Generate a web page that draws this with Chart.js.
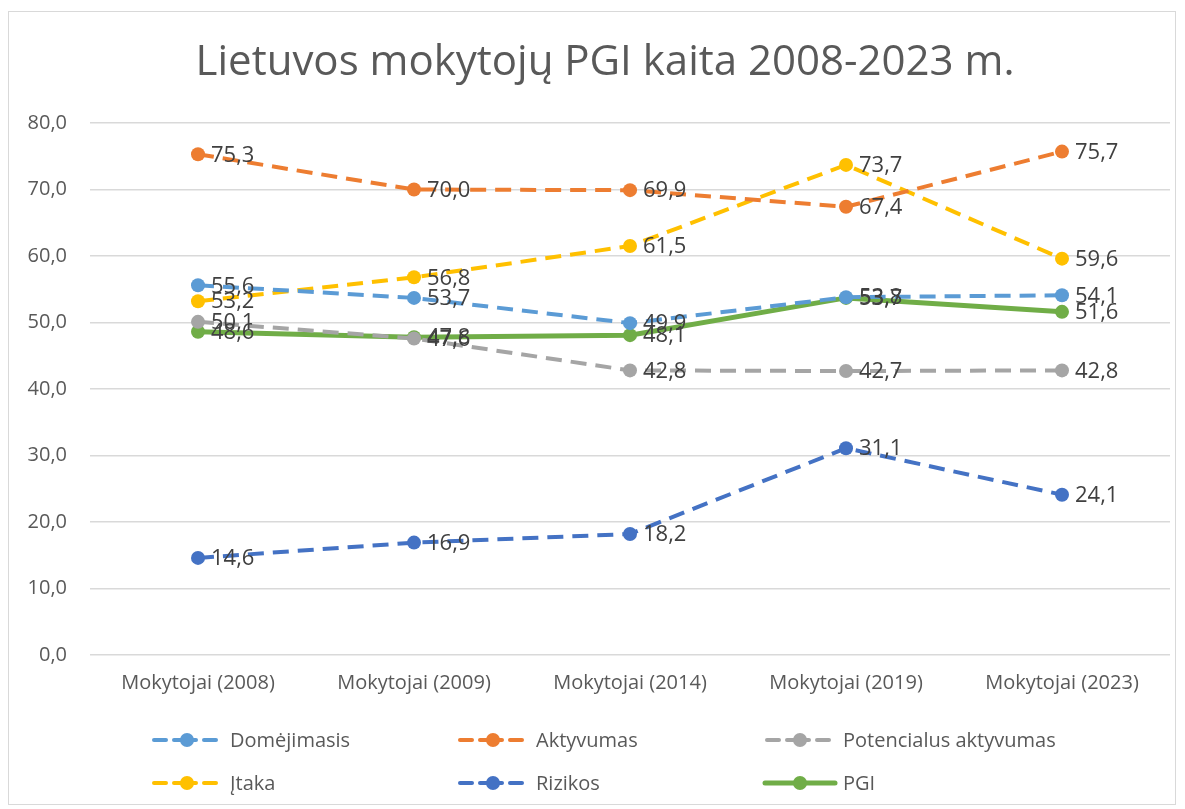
<!DOCTYPE html>
<html>
<head>
<meta charset="utf-8">
<script src="https://cdn.jsdelivr.net/npm/chart.js@4.4.0/dist/chart.umd.min.js"></script>
<style>
  html, body { margin: 0; padding: 0; background: #fff; }
  #wrap { position: relative; width: 1185px; height: 809px; }
  #frame { position: absolute; left: 8px; top: 11px; width: 1168px; height: 794px; border: 1px solid #d9d9d9; box-sizing: border-box; }
</style>
</head>
<body>
<div id="wrap">
  <div id="frame"></div>
  <canvas id="chart" width="1185" height="809"></canvas>
</div>
<script>
// Chart data
const chartTitle = 'Lietuvos mokytojų PGI kaita 2008-2023 m.';
const categories = ['Mokytojai (2008)', 'Mokytojai (2009)', 'Mokytojai (2014)', 'Mokytojai (2019)', 'Mokytojai (2023)'];
const domejimasis = [55.6, 53.7, 49.9, 53.8, 54.1];
const aktyvumas = [75.3, 70.0, 69.9, 67.4, 75.7];
const potencialus = [50.1, 47.6, 42.8, 42.7, 42.8];
const itaka = [53.2, 56.8, 61.5, 73.7, 59.6];
const rizikos = [14.6, 16.9, 18.2, 31.1, 24.1];
const pgi = [48.6, 47.8, 48.1, 53.7, 51.6];

const FONT = '"Open Sans", "Noto Sans", sans-serif';

// Format number with comma decimal
function fmt(v) {
    return v.toFixed(1).replace('.', ',');
}

function makeSet(label, data, color, dashed) {
    return {
        label: label,
        data: data,
        borderColor: color,
        backgroundColor: color,
        borderWidth: dashed ? 4 : 5,
        borderDash: dashed ? [16, 9] : [],
        pointRadius: 7,
        pointHoverRadius: 7,
        pointBorderWidth: 0,
        pointBackgroundColor: color,
        tension: 0,
        fill: false,
        dashed: dashed
    };
}

const datasets = [
    makeSet('Domėjimasis', domejimasis, '#5B9BD5', true),
    makeSet('Aktyvumas', aktyvumas, '#ED7D31', true),
    makeSet('Potencialus aktyvumas', potencialus, '#A5A5A5', true),
    makeSet('Įtaka', itaka, '#FFC000', true),
    makeSet('Rizikos', rizikos, '#4472C4', true),
    makeSet('PGI', pgi, '#70AD47', false)
];

// Title, data labels and legend drawn by a small plugin
const extras = {
    id: 'extras',
    afterDraw(chart) {
        const ctx = chart.ctx;
        ctx.save();

        // title
        ctx.fillStyle = '#595959';
        ctx.font = '42px ' + FONT;
        ctx.textAlign = 'center';
        ctx.textBaseline = 'middle';
        ctx.fillText(chartTitle, 605, 63);

        // data labels
        ctx.font = '22px ' + FONT;
        ctx.fillStyle = '#404040';
        ctx.textAlign = 'left';
        chart.data.datasets.forEach((ds, i) => {
            const meta = chart.getDatasetMeta(i);
            meta.data.forEach((pt, j) => {
                ctx.fillText(fmt(ds.data[j]), pt.x + 13, pt.y + 1);
            });
        });

        // legend
        const cols = [152, 458, 765];
        const rows = [740, 783];
        ctx.font = '20px ' + FONT;
        chart.data.datasets.forEach((ds, i) => {
            const x = cols[i % 3];
            const y = rows[Math.floor(i / 3)];
            ctx.strokeStyle = ds.borderColor;
            ctx.lineCap = 'round';
            if (ds.dashed) {
                ctx.lineWidth = 4;
                ctx.beginPath(); ctx.moveTo(x + 2, y); ctx.lineTo(x + 14, y); ctx.stroke();
                ctx.beginPath(); ctx.moveTo(x + 22, y); ctx.lineTo(x + 44, y); ctx.stroke();
                ctx.beginPath(); ctx.moveTo(x + 52, y); ctx.lineTo(x + 64, y); ctx.stroke();
            } else {
                ctx.lineWidth = 5;
                ctx.beginPath(); ctx.moveTo(x, y); ctx.lineTo(x + 70, y); ctx.stroke();
            }
            ctx.fillStyle = ds.borderColor;
            ctx.beginPath(); ctx.arc(x + 35, y, 7, 0, Math.PI * 2); ctx.fill();
            ctx.fillStyle = '#595959';
            ctx.fillText(ds.label, x + 78, y + 1);
        });
        ctx.restore();
    }
};

new Chart(document.getElementById('chart'), {
    type: 'line',
    data: { labels: categories, datasets: datasets },
    options: {
        responsive: false,
        animation: false,
        layout: { padding: { left: 0, top: 123, right: 15, bottom: 104 } },
        plugins: {
            legend: { display: false },
            title: { display: false },
            tooltip: { enabled: false }
        },
        scales: {
            x: {
                offset: true,
                grid: { display: false, drawTicks: false },
                border: { display: false },
                ticks: { color: '#595959', font: { family: FONT, size: 20 }, padding: 16, maxRotation: 0 },
                afterFit(scale) { scale.height = 50; }
            },
            y: {
                min: 0,
                max: 80,
                grid: { color: '#d9d9d9', lineWidth: 1.5, drawTicks: false },
                border: { display: false },
                ticks: {
                    stepSize: 10,
                    color: '#595959',
                    font: { family: FONT, size: 20 },
                    padding: 23,
                    callback: v => fmt(v)
                },
                afterFit(scale) { scale.width = 90; }
            }
        }
    },
    plugins: [extras]
});
</script>
</body>
</html>
